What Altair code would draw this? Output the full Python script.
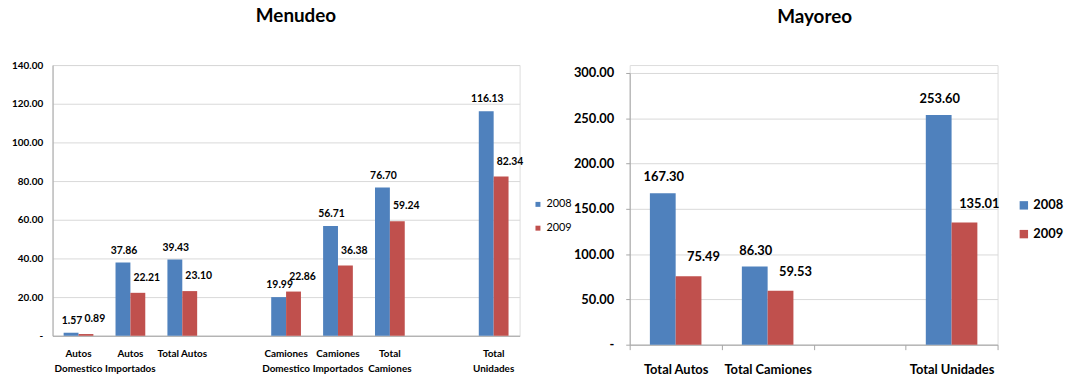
import altair as alt
import pandas as pd

# Sales volumes, 2008 vs 2009
years = ["2008", "2009"]
year_colors = ["#4F81BD", "#C0504D"]

# Retail (Menudeo); "|" marks a line break in the axis label
menudeo_cats = ["Autos|Domestico", "Autos|Importados", "Total Autos",
                "Camiones|Domestico", "Camiones|Importados", "Total|Camiones",
                "Total|Unidades"]
menudeo_2008 = [1.57, 37.86, 39.43, 19.99, 56.71, 76.70, 116.13]
menudeo_2009 = [0.89, 22.21, 23.10, 22.86, 36.38, 59.24, 82.34]
# axis slots, blank entries leave an empty gap between groups
menudeo_slots = ["Autos|Domestico", "Autos|Importados", "Total Autos", " ",
                 "Camiones|Domestico", "Camiones|Importados", "Total|Camiones", "  ",
                 "Total|Unidades"]
menudeo_ticks = [0, 20, 40, 60, 80, 100, 120, 140]

# Wholesale (Mayoreo)
mayoreo_cats = ["Total Autos", "Total Camiones", "Total Unidades"]
mayoreo_2008 = [167.30, 86.30, 253.60]
mayoreo_2009 = [75.49, 59.53, 135.01]
mayoreo_slots = ["Total Autos", "Total Camiones", " ", "Total Unidades"]
mayoreo_ticks = [0, 50, 100, 150, 200, 250, 300]


def to_long(cats, v08, v09):
    rows = []
    for c, a, b in zip(cats, v08, v09):
        rows.append({"cat": c, "year": "2008", "value": a})
        rows.append({"cat": c, "year": "2009", "value": b})
    return pd.DataFrame(rows)


SANS = "Lato, sans-serif"
AXIS_GREY = "#a6a6a6"
GRID_GREY = "#d9d9d9"
ZERO_DASH = "datum.value == 0 ? '-' : format(datum.value, '.2f')"

MEN_W, MEN_H = 471, 273
MAY_W, MAY_H = 371, 282

# ---------------- Menudeo ----------------
men_df = to_long(menudeo_cats, menudeo_2008, menudeo_2009)
men_step = MEN_W / len(menudeo_slots)
men_group = 30

men_x = alt.X(
    "cat:N",
    sort=menudeo_slots,
    scale=alt.Scale(domain=menudeo_slots, paddingInner=0, paddingOuter=0),
    axis=alt.Axis(title=None, labelAngle=0, ticks=False, domainColor=AXIS_GREY,
                  labelExpr="split(datum.label, '|')", labelFont=SANS,
                  labelFontWeight="bold", labelFontSize=10, labelLineHeight=15,
                  labelPadding=13, labelColor="#000"),
)
men_xo = alt.XOffset("year:N", scale=alt.Scale(
    domain=years, paddingInner=0, paddingOuter=0,
    range=[(men_step - men_group) / 2, (men_step + men_group) / 2]))
men_y = alt.Y(
    "value:Q",
    scale=alt.Scale(domain=[0, 140]),
    axis=alt.Axis(title=None, values=menudeo_ticks, labelExpr=ZERO_DASH, ticks=False,
                  gridColor=GRID_GREY, domainColor=AXIS_GREY, labelFont=SANS,
                  labelFontWeight="bold", labelFontSize=10, labelColor="#000",
                  labelPadding=10, minExtent=52, maxExtent=52),
)

men_bars = alt.Chart(men_df).mark_bar().encode(
    x=men_x, xOffset=men_xo, y=men_y,
    color=alt.Color("year:N", scale=alt.Scale(domain=years, range=year_colors),
                    legend=alt.Legend(title=None, orient="none", legendX=484, legendY=135,
                                      padding=0, symbolType="square", symbolSize=25,
                                      symbolStrokeWidth=0, labelFont=SANS, labelFontSize=11,
                                      labelColor="#000", labelOffset=3, rowPadding=12)),
)


def value_labels(df, x, xo, y, year, dx, dy, size):
    return alt.Chart(df).transform_filter(alt.datum.year == year).mark_text(
        dx=dx, dy=dy, font=SANS, fontSize=size, fontWeight="bold", color="#000",
        baseline="middle", align="center",
    ).encode(x=x, xOffset=xo, y=y, text=alt.Text("value:Q", format=".2f"))


men_chart = alt.layer(
    men_bars,
    value_labels(men_df, men_x, men_xo, men_y, "2008", 1, -12, 10.5),
    value_labels(men_df, men_x, men_xo, men_y, "2009", 9, -15, 10.5),
).properties(
    width=MEN_W, height=MEN_H,
    title=alt.TitleParams("Menudeo", font=SANS, fontSize=19, fontWeight="bold",
                          color="#000", anchor="middle", dx=10, offset=34),
)

# ---------------- Mayoreo ----------------
may_df = to_long(mayoreo_cats, mayoreo_2008, mayoreo_2009)
may_step = MAY_W / len(mayoreo_slots)
may_group = 52

may_x = alt.X(
    "cat:N",
    sort=mayoreo_slots,
    scale=alt.Scale(domain=mayoreo_slots, paddingInner=0, paddingOuter=0),
    axis=alt.Axis(title=None, labelAngle=0, tickBand="extent", tickSize=5,
                  tickColor=AXIS_GREY, domainColor=AXIS_GREY, labelFont=SANS,
                  labelFontWeight="bold", labelFontSize=13, labelPadding=14,
                  labelColor="#000"),
)
may_xo = alt.XOffset("year:N", scale=alt.Scale(
    domain=years, paddingInner=0, paddingOuter=0,
    range=[(may_step - may_group) / 2, (may_step + may_group) / 2]))
may_y = alt.Y(
    "value:Q",
    scale=alt.Scale(domain=[0, 300], range=[MAY_H, 8]),
    axis=alt.Axis(title=None, values=mayoreo_ticks, labelExpr=ZERO_DASH, tickSize=4,
                  tickColor=AXIS_GREY, gridColor=GRID_GREY, domainColor=AXIS_GREY,
                  labelFont=SANS, labelFontWeight="bold", labelFontSize=13,
                  labelColor="#000", labelPadding=12),
)

may_bars = alt.Chart(may_df).mark_bar().encode(
    x=may_x, xOffset=may_xo, y=may_y,
    color=alt.Color("year:N", scale=alt.Scale(domain=years, range=year_colors),
                    legend=alt.Legend(title=None, orient="none", legendX=391, legendY=135,
                                      padding=0, symbolType="square", symbolSize=72,
                                      symbolStrokeWidth=0, labelFont=SANS, labelFontSize=13,
                                      labelFontWeight="bold", labelColor="#000",
                                      labelOffset=3, rowPadding=15)),
)

may_chart = alt.layer(
    may_bars,
    value_labels(may_df, may_x, may_xo, may_y, "2008", 1, -16, 13),
    value_labels(may_df, may_x, may_xo, may_y, "2009", 15, -19, 13),
).properties(
    width=MAY_W, height=MAY_H,
    title=alt.TitleParams("Mayoreo", font=SANS, fontSize=19, fontWeight="bold",
                          color="#000", anchor="middle", dx=1, offset=38),
)

chart = alt.hconcat(men_chart, may_chart, spacing=111, bounds="flush").resolve_scale(
    color="independent", xOffset="independent"
).properties(
    padding={"left": 0, "top": 5, "right": 0, "bottom": 0},
).configure_view(stroke=None).configure(background="white")

chart.save("out.html", embed_options={"renderer": "svg", "actions": False})
